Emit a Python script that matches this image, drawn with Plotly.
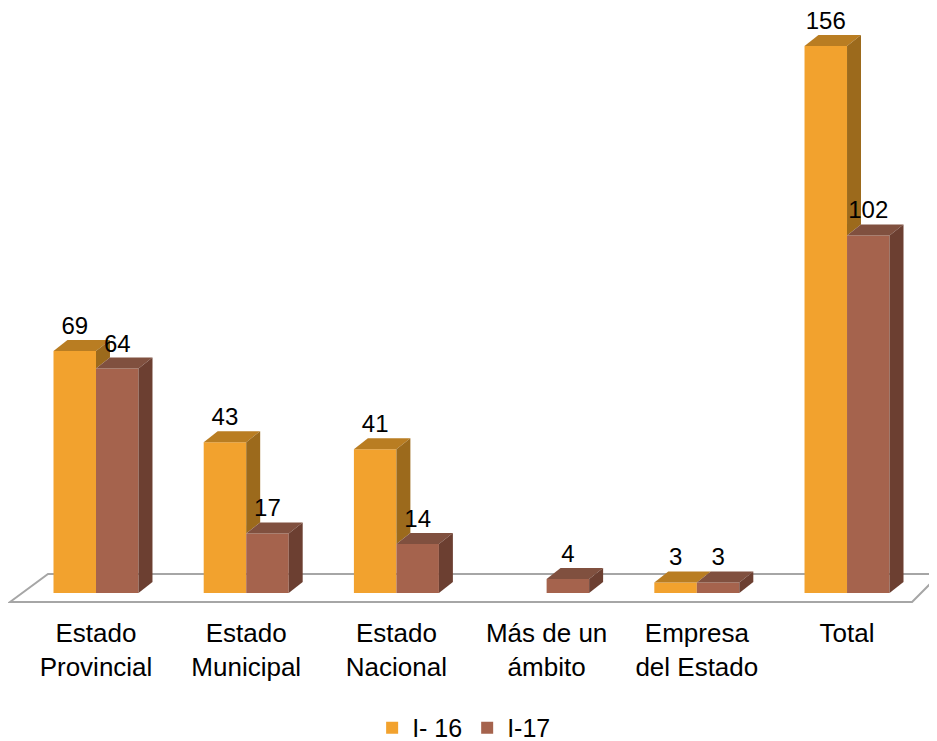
import plotly.graph_objects as go

categories = ["Estado<br>Provincial", "Estado<br>Municipal", "Estado<br>Nacional",
              "Más de un<br>ámbito", "Empresa<br>del Estado", "Total"]
series_names = ["I- 16", "I-17"]
values_i16 = [69, 43, 41, None, 3, 156]
values_i17 = [64, 17, 14, 4, 3, 102]

# styling
FONT = "Liberation Sans, Arial, sans-serif"
front_cols = ["#F2A22E", "#A5634D"]
top_cols = ["#B97D22", "#80503F"]
side_cols = ["#9C6A1C", "#6C3F31"]
W = 0.283       # bar width (x units)
DX = 0.093      # depth offset x
DY = 3.14       # depth offset y

fig = go.Figure()

# floor (decorative platform)
fx = [-0.5726, -0.3196, 5.619, 5.433]
fy = [-2.567, 5.419, 5.419, -2.567]
path = "M {} {} L {} {} L {} {} L {} {} Z".format(fx[0], fy[0], fx[1], fy[1], fx[2], fy[2], fx[3], fy[3])
fig.add_shape(type="path", path=path, xref="x", yref="y", layer="below",
              line=dict(color="#A6A6A6", width=2), fillcolor="white")

xs = list(range(len(categories)))
series = [values_i16, values_i17]
offsets = [-W / 2, W / 2]

# front faces
for s, (vals, off) in enumerate(zip(series, offsets)):
    fig.add_trace(go.Bar(
        x=[x + off for x in xs], y=vals, width=W, name=series_names[s],
        marker=dict(color=front_cols[s], line=dict(width=0)),
        hoverinfo="skip"))

# 3D top and side faces
for s, (vals, off) in enumerate(zip(series, offsets)):
    for i, v in enumerate(vals):
        if v is None:
            continue
        x0 = xs[i] + off - W / 2
        x1 = xs[i] + off + W / 2
        fig.add_trace(go.Scatter(
            x=[x0, x1, x1 + DX, x0 + DX, x0], y=[v, v, v + DY, v + DY, v],
            mode="lines", fill="toself", fillcolor=top_cols[s],
            line=dict(width=0, color=top_cols[s]), showlegend=False, hoverinfo="skip"))
        base = 0
        if s == 0 and values_i17[i] is not None:
            base = values_i17[i]
        if v > base:
            fig.add_trace(go.Scatter(
                x=[x1, x1, x1 + DX, x1 + DX, x1], y=[base, v, v + DY, base + DY, base],
                mode="lines", fill="toself", fillcolor=side_cols[s],
                line=dict(width=0, color=side_cols[s]), showlegend=False, hoverinfo="skip"))

# data labels
for s, (vals, off) in enumerate(zip(series, offsets)):
    lx, ly, lt = [], [], []
    for i, v in enumerate(vals):
        if v is None:
            continue
        lx.append(xs[i] + off)
        ly.append(v + DY)
        lt.append(str(v))
    fig.add_trace(go.Scatter(
        x=lx, y=ly, text=lt, mode="text", textposition="top center", cliponaxis=False,
        textfont=dict(family=FONT, size=24, color="#000000"),
        showlegend=False, hoverinfo="skip"))

fig.update_layout(
    width=929, height=733,
    margin=dict(l=0, r=0, t=0, b=129, autoexpand=False),
    paper_bgcolor="white", plot_bgcolor="white",
    barmode="overlay",
    font=dict(family=FONT, size=25, color="#000000"),
    showlegend=True,
    legend=dict(orientation="h", x=0.491, xanchor="center", y=-0.192, yanchor="middle",
                font=dict(family=FONT, size=25), traceorder="normal"),
    xaxis=dict(range=[-0.5859, 5.599], tickmode="array", tickvals=xs, ticktext=categories,
               showgrid=False, zeroline=False, showline=False, ticks="", automargin=False,
               ticklabelstandoff=3, tickfont=dict(family=FONT, size=26)),
    yaxis=dict(range=[-5.42, 166.86], visible=False, showgrid=False, zeroline=False,
               automargin=False),
)

fig.write_html("out.html")
